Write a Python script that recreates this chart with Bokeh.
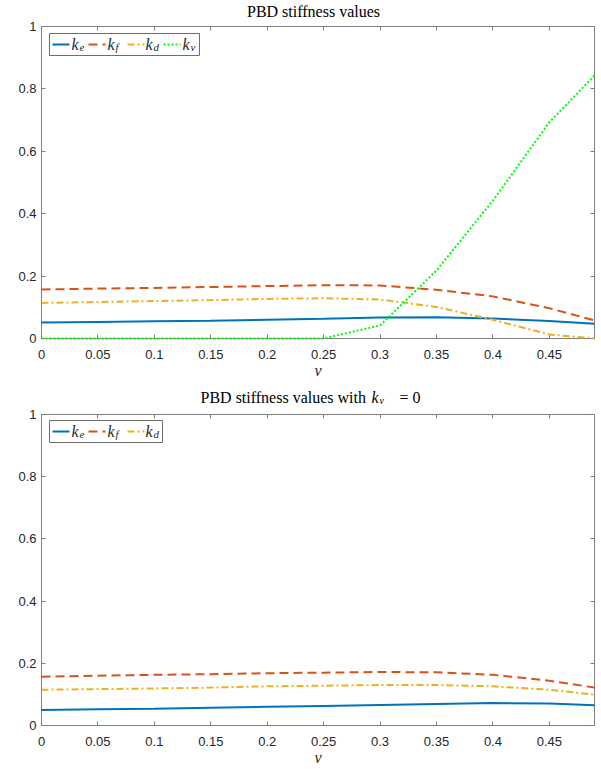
from bokeh.plotting import figure
from bokeh.models import FixedTicker, LinearAxis, Label, BoxAnnotation, Arrow, Range1d
from bokeh.layouts import column
from bokeh.embed import file_html
from bokeh.resources import INLINE

# ---------------- data ----------------
nu = [0, 0.05, 0.1, 0.15, 0.2, 0.25, 0.3, 0.35, 0.4, 0.45, 0.49]

ke_top = [0.051, 0.053, 0.055, 0.057, 0.060, 0.063, 0.067, 0.068, 0.064, 0.056, 0.047]
kf_top = [0.157, 0.160, 0.162, 0.165, 0.168, 0.171, 0.170, 0.156, 0.135, 0.097, 0.058]
kd_top = [0.114, 0.117, 0.120, 0.123, 0.127, 0.129, 0.125, 0.101, 0.060, 0.013, 0.000]
kv_top = [0.0, 0.0, 0.0, 0.0, 0.0, 0.0, 0.042, 0.218, 0.442, 0.693, 0.843]

ke_bot = [0.050, 0.052, 0.054, 0.057, 0.060, 0.063, 0.066, 0.069, 0.072, 0.071, 0.065]
kf_bot = [0.157, 0.160, 0.163, 0.165, 0.168, 0.170, 0.172, 0.171, 0.163, 0.144, 0.122]
kd_bot = [0.115, 0.117, 0.119, 0.122, 0.126, 0.128, 0.130, 0.130, 0.126, 0.115, 0.099]

x_ticks = [0, 0.05, 0.1, 0.15, 0.2, 0.25, 0.3, 0.35, 0.4, 0.45]
x_tick_labels = ["0", "0.05", "0.1", "0.15", "0.2", "0.25", "0.3", "0.35", "0.4", "0.45"]
y_ticks = [0, 0.2, 0.4, 0.6, 0.8, 1]
y_tick_labels = ["0", "0.2", "0.4", "0.6", "0.8", "1"]

x_label = "ν"
title_top = "PBD stiffness values"
title_bot_text = "PBD stiffness values with"
series_subscripts = ["e", "f", "d", "v"]

# ---------------- style ----------------
C_BLUE = "#0072BD"
C_RED = "#D95319"
C_YEL = "#EDB120"
C_GRN = "#00FF00"
STYLES = [(C_BLUE, "solid"), (C_RED, "9 5"), (C_YEL, "7 3 2 3"), (C_GRN, "2 2")]
AX_COL = "#7f7f7f"
TXT_COL = "#262626"
SERIF = "Liberation Serif"
SANS = "Liberation Sans"

W = 600
FRAME_H = 312
BL, BR = 41, 6
BASE_FIX = 4   # Label baselines render a few px low; compensate


def make_header(height):
    h = figure(width=W, height=height, x_range=Range1d(0, 1), y_range=Range1d(0, 1),
               output_backend="svg", toolbar_location=None,
               x_axis_type=None, y_axis_type=None,
               min_border_left=BL, min_border_right=BR, min_border_top=0, min_border_bottom=0)
    h.xgrid.visible = False
    h.ygrid.visible = False
    h.outline_line_color = None
    return h


def make_fig(height, btop, bbot):
    p = figure(width=W, height=height, x_range=Range1d(0, 0.49), y_range=Range1d(0, 1),
               output_backend="svg", toolbar_location=None,
               min_border_left=BL, min_border_right=BR,
               min_border_top=btop, min_border_bottom=bbot)
    p.xgrid.visible = False
    p.ygrid.visible = False
    p.outline_line_color = None

    p.xaxis.ticker = FixedTicker(ticks=x_ticks)
    p.xaxis.major_label_overrides = dict(zip(x_ticks, x_tick_labels))
    p.yaxis.ticker = FixedTicker(ticks=y_ticks)
    p.yaxis.major_label_overrides = dict(zip(y_ticks, y_tick_labels))
    for ax in (p.xaxis[0], p.yaxis[0]):
        ax.axis_line_color = AX_COL
        ax.major_tick_line_color = AX_COL
        ax.major_tick_in = 4
        ax.major_tick_out = 0
        ax.minor_tick_line_color = None
        ax.major_label_text_font = SANS
        ax.major_label_text_font_size = "13px"
        ax.major_label_text_color = TXT_COL
    p.xaxis.major_label_standoff = 11
    p.yaxis.major_label_standoff = 5
    p.xaxis.axis_label = x_label
    p.xaxis.axis_label_text_font = SERIF
    p.xaxis.axis_label_text_font_style = "italic"
    p.xaxis.axis_label_text_font_size = "16px"
    p.xaxis.axis_label_text_color = TXT_COL
    p.xaxis.axis_label_standoff = 0

    top_ax = LinearAxis(ticker=FixedTicker(ticks=x_ticks),
                        major_label_overrides={t: "" for t in x_ticks})
    right_ax = LinearAxis(ticker=FixedTicker(ticks=y_ticks),
                          major_label_overrides={t: "" for t in y_ticks})
    for ax in (top_ax, right_ax):
        ax.axis_line_color = AX_COL
        ax.major_tick_line_color = AX_COL
        ax.major_tick_in = 4
        ax.major_tick_out = 0
        ax.minor_tick_line_color = None
        ax.major_label_standoff = 0
        ax.major_label_text_font_size = "1px"
    p.add_layout(top_ax, "above")
    p.add_layout(right_ax, "right")
    return p


def text_label(p, x, y, txt, size=16, style="normal", align="left", color="black"):
    p.add_layout(Label(x=x, y=y + BASE_FIX, x_units="screen", y_units="screen", text=txt,
                       text_font=SERIF, text_font_style=style,
                       text_font_size=f"{size}px", text_color=color,
                       text_baseline="alphabetic", text_align=align))


def sub_label(p, x, y, main, sub, size=16, subsize=11, drop=3, gap=8, color=TXT_COL):
    text_label(p, x, y, main, size=size, style="italic", color=color)
    text_label(p, x + gap, y - drop, sub, size=subsize, style="italic", color=color)


def add_legend(p, n, box_right):
    # frame-relative screen coordinates (origin at frame bottom-left)
    top_y = FRAME_H - 7
    bot_y = FRAME_H - 29
    p.add_layout(BoxAnnotation(left=8, right=box_right, top=top_y, bottom=bot_y,
                               left_units="screen", right_units="screen",
                               top_units="screen", bottom_units="screen",
                               fill_color="white", fill_alpha=1.0,
                               line_color="#6e6e6e", line_width=1, line_alpha=1.0))
    starts = [11, 47, 86, 122]
    lab_x = [30, 66, 104, 141]
    for i in range(n):
        col, dash = STYLES[i]
        p.add_layout(Arrow(end=None, x_start=starts[i], x_end=starts[i] + 17,
                           y_start=FRAME_H - 18, y_end=FRAME_H - 18,
                           start_units="screen", end_units="screen",
                           line_color=col, line_width=2, line_dash=dash))
        sub_label(p, lab_x[i], FRAME_H - 21.5, "k", series_subscripts[i])


# ---------------- top chart ----------------
HDR1 = 18
h1 = make_header(HDR1)
text_label(h1, 313 - BL, HDR1 - 14.5, title_top, align="center")

p1 = make_fig(height=8 + FRAME_H + 45, btop=8, bbot=45)
series_top = [ke_top, kf_top, kd_top, kv_top]
for (col, dash), ys in zip(STYLES, series_top):
    r = p1.line(nu, ys, line_color=col, line_width=2, line_dash=dash)
    r.level = "overlay"
add_legend(p1, 4, 158)

# ---------------- bottom chart ----------------
HDR2 = 23
h2 = make_header(HDR2)
tb = HDR2 - 18   # title baseline, 18 px above header bottom
text_label(h2, 200 - BL, tb, title_bot_text)
sub_label(h2, 371 - BL, tb, "k", "v", subsize=10, drop=2.5, color="black")
text_label(h2, 399 - BL, tb, "= 0")

p2 = make_fig(height=8 + FRAME_H + 42, btop=8, bbot=42)
series_bot = [ke_bot, kf_bot, kd_bot]
for (col, dash), ys in zip(STYLES[:3], series_bot):
    r = p2.line(nu, ys, line_color=col, line_width=2, line_dash=dash)
    r.level = "overlay"
add_legend(p2, 3, 121)

layout = column(h1, p1, h2, p2, spacing=0)
with open("out.html", "w") as f:
    f.write(file_html(layout, INLINE))
